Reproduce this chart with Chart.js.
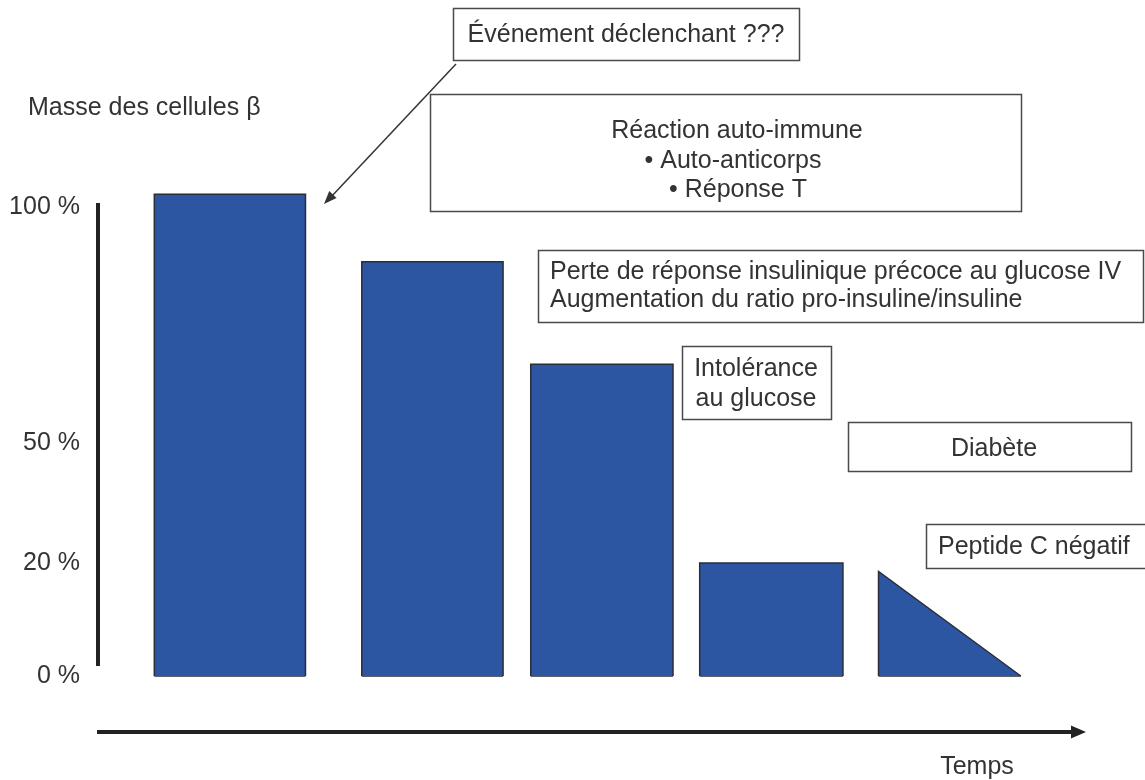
<!DOCTYPE html>
<html lang="fr">
<head>
<meta charset="utf-8">
<title>Masse des cellules β</title>
<script src="https://cdn.jsdelivr.net/npm/chart.js@4.4.1/dist/chart.umd.min.js"></script>
<style>
  html, body { margin: 0; padding: 0; background: #fff; }
  #wrap { position: relative; width: 1145px; height: 780px; }
</style>
</head>
<body>
<div id="wrap"><canvas id="chart"></canvas></div>
<script>
/* ── Data ─────────────────────────────────────────────────────────────── */

// time axis has no units in the figure: 0..100 arbitrary
const phaseStart = [5.7, 26.7, 43.8, 60.9, 79.0];
const phaseEnd   = [21.0, 41.0, 58.2, 75.4, 93.4];
// beta-cell mass (%) at start / end of each phase (last one falls to 0)
const massStart  = [102.7, 88.4, 66.7, 20, 18.5];
const massEnd    = [102.7, 88.4, 66.7, 20, 0];

const yTicks      = [0, 20, 50, 100];
const yTickLabels = ['0 %', '20 %', '50 %', '100 %'];

// the figure's y axis is schematic: ticks are not evenly spaced.
// [value, fraction of axis height]
const Y_ANCHORS = [[0, 0], [20, 0.2325], [50, 0.4794], [100, 0.9650]];

/* ── Style ────────────────────────────────────────────────────────────── */

const FONT  = '"Liberation Sans", Arial, Helvetica, sans-serif';
const TEXT  = '#333333';
const BLUE  = '#2c55a2';
const EDGE  = '#2a2d3a';
const FSIZE = 25;

/* ── Schematic scale (piecewise linear) ───────────────────────────────── */

function segFor(list, key, v) {
  let i = 1;
  while (i < list.length - 1 && v > list[i][key]) i++;
  return [list[i - 1], list[i]];
}

class SchematicScale extends Chart.LinearScale {
  static id = 'schematic';
  static defaults = {};
  getPixelForValue(v) {
    if (v === null || v === undefined) return NaN;
    const [[v0, f0], [v1, f1]] = segFor(Y_ANCHORS, 0, v);
    return this.getPixelForDecimal(f0 + (v - v0) * (f1 - f0) / (v1 - v0));
  }
  getValueForPixel(p) {
    const d = this.getDecimalForPixel(p);
    const [[v0, f0], [v1, f1]] = segFor(Y_ANCHORS, 1, d);
    return v0 + (d - f0) * (v1 - v0) / (f1 - f0);
  }
}
Chart.register(SchematicScale);

/* ── Annotations (figure callouts, canvas px) ─────────────────────────── */

const BOXES = [
  { r: [453, 8, 346, 52],   lines: [['Événement déclenchant ???', 626, 35, 'center']] },
  { r: [430, 94, 591, 117], lines: [['Réaction auto-immune', 737, 131, 'center'],
                                    ['• Auto-anticorps', 733, 161, 'center'],
                                    ['• Réponse T', 738, 190, 'center']] },
  { r: [538, 250, 605, 72], lines: [['Perte de réponse insulinique précoce au glucose IV', 550, 272, 'left'],
                                    ['Augmentation du ratio pro-insuline/insuline', 550, 300, 'left']] },
  { r: [682, 346, 149, 73], lines: [['Intolérance', 756, 369, 'center'],
                                    ['au glucose', 756, 399, 'center']] },
  { r: [848, 422, 283, 49], lines: [['Diabète', 994, 449, 'center']] },
  { r: [926, 524, 230, 44], lines: [['Peptide C négatif', 938, 547, 'left']] },
];

function arrowHead(ctx, x0, y0, x1, y1, len, half) {
  const a = Math.atan2(y1 - y0, x1 - x0);
  ctx.beginPath();
  ctx.moveTo(x1, y1);
  ctx.lineTo(x1 - len * Math.cos(a) + half * Math.sin(a), y1 - len * Math.sin(a) - half * Math.cos(a));
  ctx.lineTo(x1 - len * Math.cos(a) - half * Math.sin(a), y1 - len * Math.sin(a) + half * Math.cos(a));
  ctx.closePath();
  ctx.fill();
}

const callouts = {
  id: 'callouts',
  afterDraw(chart) {
    const ctx = chart.ctx;
    const area = chart.chartArea;
    const yTop = chart.scales.y.getPixelForValue(yTicks[yTicks.length - 1]) - 4;
    ctx.save();

    // y axis bar (from just above 100 % down to the 0 % label)
    ctx.strokeStyle = '#222';
    ctx.lineWidth = 4;
    ctx.beginPath();
    ctx.moveTo(area.left, yTop);
    ctx.lineTo(area.left, area.bottom - 10);
    ctx.stroke();

    // time arrow
    ctx.fillStyle = '#222';
    ctx.beginPath();
    ctx.moveTo(area.left - 1, 732);
    ctx.lineTo(area.right - 12, 732);
    ctx.stroke();
    arrowHead(ctx, area.left, 732, area.right, 732, 15, 6.5);

    // boxes
    ctx.font = `${FSIZE}px ${FONT}`;
    ctx.textBaseline = 'middle';
    BOXES.forEach(b => {
      const [x, y, w, h] = b.r;
      ctx.fillStyle = '#fff';
      ctx.fillRect(x, y, w, h);
      ctx.strokeStyle = '#4a4a4a';
      ctx.lineWidth = 1.5;
      ctx.strokeRect(x + 0.5, y + 0.5, w, h);
      ctx.fillStyle = TEXT;
      b.lines.forEach(([t, tx, ty, al]) => {
        ctx.textAlign = al;
        ctx.fillText(t, tx, ty);
      });
    });

    // trigger arrow
    ctx.strokeStyle = '#333';
    ctx.fillStyle = '#333';
    ctx.lineWidth = 1.5;
    ctx.beginPath();
    ctx.moveTo(456, 64);
    ctx.lineTo(331, 197);
    ctx.stroke();
    arrowHead(ctx, 456, 64, 324, 204, 13, 5);

    // axis titles
    ctx.fillStyle = TEXT;
    ctx.textAlign = 'left';
    ctx.fillText('Masse des cellules β', 28, 108);
    ctx.textAlign = 'center';
    ctx.fillText('Temps', 977, 767);

    ctx.restore();
  }
};

/* ── Chart ────────────────────────────────────────────────────────────── */

const shapeSets = phaseStart.map((s, i) => ({
  data: [
    { x: s, y: 0 },
    { x: s, y: massStart[i] },
    { x: phaseEnd[i], y: massEnd[i] },
    { x: phaseEnd[i], y: 0 },
  ],
  fill: 'origin',
  clip: false,
  backgroundColor: BLUE,
  borderColor: EDGE,
  borderWidth: 1.5,
  borderJoinStyle: 'miter',
  pointRadius: 0,
  tension: 0,
}));

// bottom edges of the shapes
const baseEdges = {
  data: phaseStart.flatMap((s, i) => [
    { x: s, y: 0 }, { x: phaseEnd[i], y: 0 }, { x: phaseEnd[i], y: null },
  ]),
  fill: false,
  clip: false,
  borderColor: EDGE,
  borderWidth: 1.5,
  pointRadius: 0,
  spanGaps: false,
};

new Chart(document.getElementById('chart'), {
  type: 'line',
  data: { datasets: [...shapeSets, baseEdges] },
  options: {
    responsive: true,
    maintainAspectRatio: false,
    animation: false,
    events: [],
    layout: { padding: { top: 190, bottom: 104, left: 0, right: 59 } },
    plugins: { legend: { display: false }, tooltip: { enabled: false } },
    scales: {
      x: { type: 'linear', min: 0, max: 100, display: false },
      y: {
        type: 'schematic',
        min: 0,
        max: 104,
        afterBuildTicks: s => { s.ticks = yTicks.map(v => ({ value: v })); },
        afterFit: s => { s.width = 98; },
        grid: { display: false, drawTicks: false },
        border: { display: false },
        ticks: {
          autoSkip: false,
          padding: 18,
          color: TEXT,
          font: { family: FONT, size: FSIZE },
          callback: (v, i) => yTickLabels[i],
        },
      },
    },
  },
  plugins: [callouts],
});
</script>
</body>
</html>
